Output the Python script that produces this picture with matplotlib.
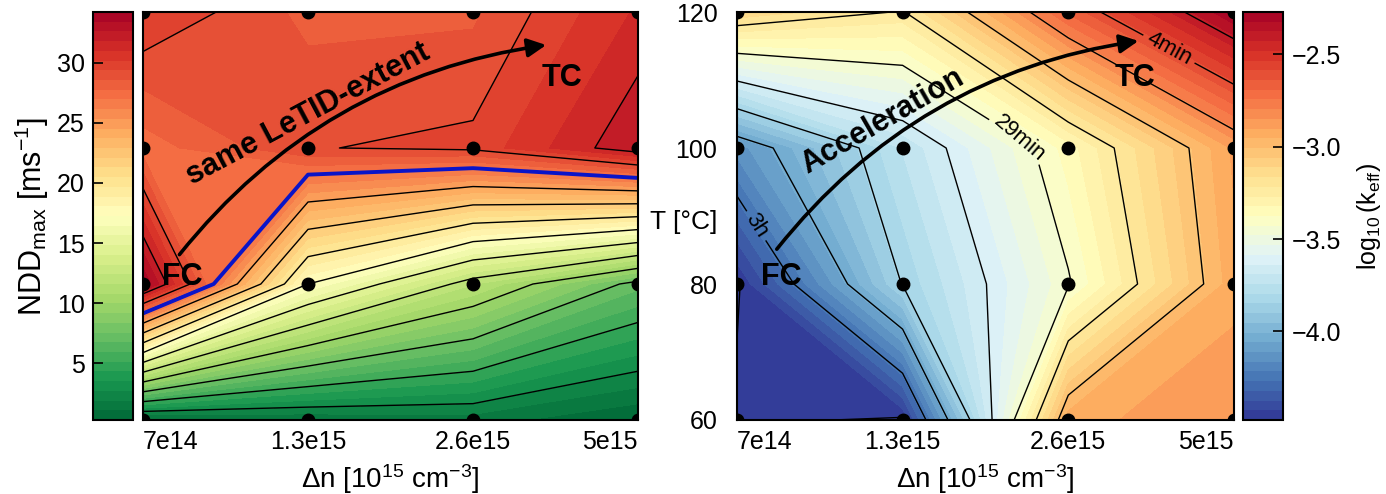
import numpy as np
import matplotlib
matplotlib.use("Agg")
import matplotlib.pyplot as plt
from matplotlib.patches import FancyArrowPatch

plt.rcParams['font.family'] = ['Liberation Sans', 'DejaVu Sans']
plt.rcParams['mathtext.fontset'] = 'custom'
plt.rcParams['mathtext.rm'] = 'Liberation Sans'
plt.rcParams['mathtext.it'] = 'Liberation Sans'
plt.rcParams['contour.negative_linestyle'] = 'solid'

# ---- data ----
dn_labels = ["7e14", "1.3e15", "2.6e15", "5e15"]
temps = [60, 80, 100, 120]

# NDD_max [ms^-1], rows = temps, cols = dn
ndd_T60 = [0.6, 1.2, 1.5, 0.3]
ndd_T80 = [34.2, 17.25, 11.66, 7.05]
ndd_T100 = [27.3, 29.3, 29.6, 32.55]
ndd_T120 = [30.2, 28.3, 28.4, 31.1]

# log10(k_eff), rows = temps, cols = dn
k_T60 = [-4.45, -4.48, -2.92, -2.86]
k_T80 = [-4.48, -3.84, -3.44, -2.92]
k_T100 = [-4.14, -3.74, -3.35, -2.89]
k_T120 = [-3.12, -3.23, -2.68, -2.27]

letid_level = 26.94
# labelled contour levels of log10(k_eff)
k_label_levels = [-4.26, -3.43, -2.60]
k_label_texts = ["3h", "29min", "4min"]

Z1 = np.array([ndd_T60, ndd_T80, ndd_T100, ndd_T120])
Z2 = np.array([k_T60, k_T80, k_T100, k_T120])
xi = np.arange(len(dn_labels))
X, Y = np.meshgrid(xi, temps)

fig = plt.figure(figsize=(13.86, 4.94), dpi=100)
bot, hgt = 0.1498, 0.8259
cax1 = fig.add_axes([0.0671, bot, 0.0289, hgt])
ax1 = fig.add_axes([0.1032, bot, 0.3571, hgt])
ax2 = fig.add_axes([0.5317, bot, 0.3586, hgt])
cax2 = fig.add_axes([0.8968, bot, 0.0289, hgt])

FS = 18
FL = 20

# left panel
fl1 = np.linspace(Z1.min(), Z1.max(), 43)
ll1 = np.linspace(Z1.min(), Z1.max(), 15)
cf1 = ax1.contourf(X, Y, Z1, levels=fl1, cmap='RdYlGn_r')
ax1.contour(X, Y, Z1, levels=ll1, colors='k', linewidths=1.0)
ax1.contour(X, Y, Z1, levels=[letid_level], colors='#0a14c8', linewidths=2.8)

# right panel
fl2 = np.linspace(Z2.min(), Z2.max(), 43)
d2 = (k_label_levels[2] - k_label_levels[0]) / 8
ll2 = k_label_levels[2] + d2 * np.arange(-9, 2)
lab_idx = [int(np.argmin(abs(ll2 - v))) for v in k_label_levels]
lab_lv = [ll2[i] for i in lab_idx]
other_lv = [v for i, v in enumerate(ll2) if i not in lab_idx]
cf2 = ax2.contourf(X, Y, Z2, levels=fl2, cmap='RdYlBu_r')
ax2.contour(X, Y, Z2, levels=other_lv, colors='k', linewidths=1.0)
cs_lab = ax2.contour(X, Y, Z2, levels=lab_lv, colors='k', linewidths=1.0)
fmt = {lv: t for lv, t in zip(cs_lab.levels, k_label_texts)}
ax2.clabel(cs_lab, fmt=fmt, inline=True, fontsize=16,
           manual=[(0.17, 89.4), (1.70, 101.3), (2.62, 115.1)])

for ax in (ax1, ax2):
    ax.plot(X.ravel(), Y.ravel(), 'o', color='k', ms=9, zorder=5)
    ax.set_xlim(0, 3)
    ax.set_ylim(60, 120)
    ax.set_xticks(xi)
    ax.set_xticklabels(dn_labels, fontsize=FS)
    tl = ax.get_xticklabels()
    tl[0].set_ha('left')
    tl[-1].set_ha('right')
    ax.tick_params(length=0, pad=7)
    ax.set_xlabel(r'$\Delta$n [10$^{15}$ cm$^{-3}$]', fontsize=FL, labelpad=6)
    for s in ax.spines.values():
        s.set_linewidth(1.5)

ax1.set_yticks([])
ax2.set_yticks(temps)
ax2.set_yticklabels([str(t) for t in temps], fontsize=FS)
ax2.tick_params(axis='y', pad=14)
fig.text(0.4935, 0.55, 'T [°C]', fontsize=19, ha='center', va='center')

cb1 = fig.colorbar(cf1, cax=cax1, ticks=[5, 10, 15, 20, 25, 30])
cax1.yaxis.set_ticks_position('left')
cax1.yaxis.set_label_position('left')
cax1.tick_params(direction='in', length=7, width=1.2, labelsize=FS, pad=6)
cb1.set_label(r'NDD$_{\mathrm{max}}$ [ms$^{-1}$]', fontsize=22, labelpad=4)

cb2 = fig.colorbar(cf2, cax=cax2, ticks=[-4.0, -3.5, -3.0, -2.5])
cax2.yaxis.set_ticks_position('right')
cax2.tick_params(direction='in', length=7, width=1.2, labelsize=FS, pad=6)
cax2.set_yticklabels(['\u22124.0', '\u22123.5', '\u22123.0', '\u22122.5'])
cb2.set_label(r'log$_{10}\,$(k$_{\mathrm{eff}}$)', fontsize=18, labelpad=10)
for c in (cax1, cax2):
    for s in c.spines.values():
        s.set_linewidth(1.5)

# annotations
def curved_arrow(ax, p0, p1):
    a = FancyArrowPatch(p0, p1, connectionstyle='arc3,rad=-0.2',
                        arrowstyle='-|>', mutation_scale=28, lw=2.6,
                        color='k', zorder=6)
    ax.add_patch(a)

curved_arrow(ax1, (0.21, 84), (2.46, 115.2))
ax1.text(1.0, 104.9, 'same LeTID-extent', rotation=28, fontsize=22,
         fontweight='bold', ha='center', va='center', rotation_mode='anchor', zorder=7)
ax1.text(0.24, 81.0, 'FC', fontsize=22, fontweight='bold', ha='center', va='center', zorder=7)
ax1.text(2.54, 110.3, 'TC', fontsize=22, fontweight='bold', ha='center', va='center', zorder=7)

curved_arrow(ax2, (0.23, 84.8), (2.44, 115.8))
ax2.text(0.88, 104.0, 'Acceleration', rotation=30, fontsize=22,
         fontweight='bold', ha='center', va='center', rotation_mode='anchor', zorder=7)
ax2.text(0.27, 81.0, 'FC', fontsize=22, fontweight='bold', ha='center', va='center', zorder=7)
ax2.text(2.4, 110.3, 'TC', fontsize=22, fontweight='bold', ha='center', va='center', zorder=7)

fig.savefig('out.png', dpi=100)
